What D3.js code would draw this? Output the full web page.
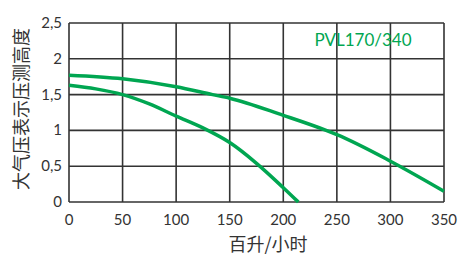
<!DOCTYPE html>
<html>
<head>
<meta charset="utf-8">
<script src="https://cdn.jsdelivr.net/npm/d3@7"></script>
<style>
  body { margin: 0; background: #fff; }
  svg { display: block; }
</style>
</head>
<body>
<div id="chart"></div>
<script>
// data
const xTicks = [0, 50, 100, 150, 200, 250, 300, 350];
const yTicks = [0, 0.5, 1, 1.5, 2, 2.5];
const curveHigh = [
  [0, 1.77], [50, 1.72], [100, 1.61], [134, 1.5], [150, 1.45],
  [200, 1.21], [240, 1.0], [250, 0.94], [300, 0.57], [350, 0.15]
];
const curveLow = [
  [0, 1.63], [25, 1.58], [50, 1.5], [75, 1.37], [100, 1.2],
  [125, 1.035], [150, 0.83], [175, 0.54], [200, 0.2], [214, 0]
];
const modelName = "PVL170/340";
const xTitle = "百升/小时";
const yTitle = "大气压表示压测高度";

const width = 458, height = 258;
const margin = {left: 69, right: 14, top: 23, bottom: 56};
const green = "#00a651";
const ink = "#333";

const svg = d3.select("#chart").append("svg")
  .attr("width", width)
  .attr("height", height);

const x = d3.scaleLinear().domain([0, 350]).range([margin.left, width - margin.right]);
const y = d3.scaleLinear().domain([0, 2.5]).range([height - margin.bottom, margin.top]);

const fmt = d => String(d).replace(".", ",");

// grid
svg.append("g")
  .selectAll("line")
  .data(xTicks)
  .join("line")
  .attr("x1", d => x(d)).attr("x2", d => x(d))
  .attr("y1", y(0)).attr("y2", y(2.5))
  .attr("stroke", ink).attr("stroke-width", 1.6);

svg.append("g")
  .selectAll("line")
  .data(yTicks)
  .join("line")
  .attr("y1", d => y(d)).attr("y2", d => y(d))
  .attr("x1", x(0)).attr("x2", x(350))
  .attr("stroke", ink).attr("stroke-width", 1.6);

// tick labels
const tickFont = "Lato, 'Open Sans', sans-serif";
svg.append("g")
  .selectAll("text")
  .data(xTicks)
  .join("text")
  .attr("x", d => x(d))
  .attr("y", y(0) + 23)
  .attr("text-anchor", "middle")
  .attr("font-family", tickFont)
  .attr("font-size", 15)
  .attr("fill", ink)
  .text(d => d);

svg.append("g")
  .selectAll("text")
  .data(yTicks)
  .join("text")
  .attr("x", x(0) - 7)
  .attr("y", d => y(d) + 5)
  .attr("text-anchor", "end")
  .attr("font-family", tickFont)
  .attr("font-size", 15)
  .attr("fill", ink)
  .text(fmt);

// curves
const line = d3.line()
  .x(d => x(d[0]))
  .y(d => y(d[1]))
  .curve(d3.curveMonotoneX);

[curveHigh, curveLow].forEach(c => {
  svg.append("path")
    .datum(c)
    .attr("d", line)
    .attr("fill", "none")
    .attr("stroke", green)
    .attr("stroke-width", 3.5);
});

// model label
svg.append("text")
  .attr("x", 363)
  .attr("y", 46)
  .attr("text-anchor", "middle")
  .attr("font-family", tickFont)
  .attr("font-size", 17)
  .attr("fill", green)
  .text(modelName);

// axis titles
svg.append("text")
  .attr("x", 268)
  .attr("y", 251)
  .attr("text-anchor", "middle")
  .attr("font-family", "'Noto Sans CJK SC', sans-serif")
  .attr("font-size", 18)
  .attr("fill", ink)
  .text(xTitle);

svg.append("text")
  .attr("transform", "translate(28,109) rotate(-90)")
  .attr("text-anchor", "middle")
  .attr("font-family", "'Noto Sans CJK SC', sans-serif")
  .attr("font-size", 18)
  .attr("fill", ink)
  .text(yTitle);
</script>
</body>
</html>
